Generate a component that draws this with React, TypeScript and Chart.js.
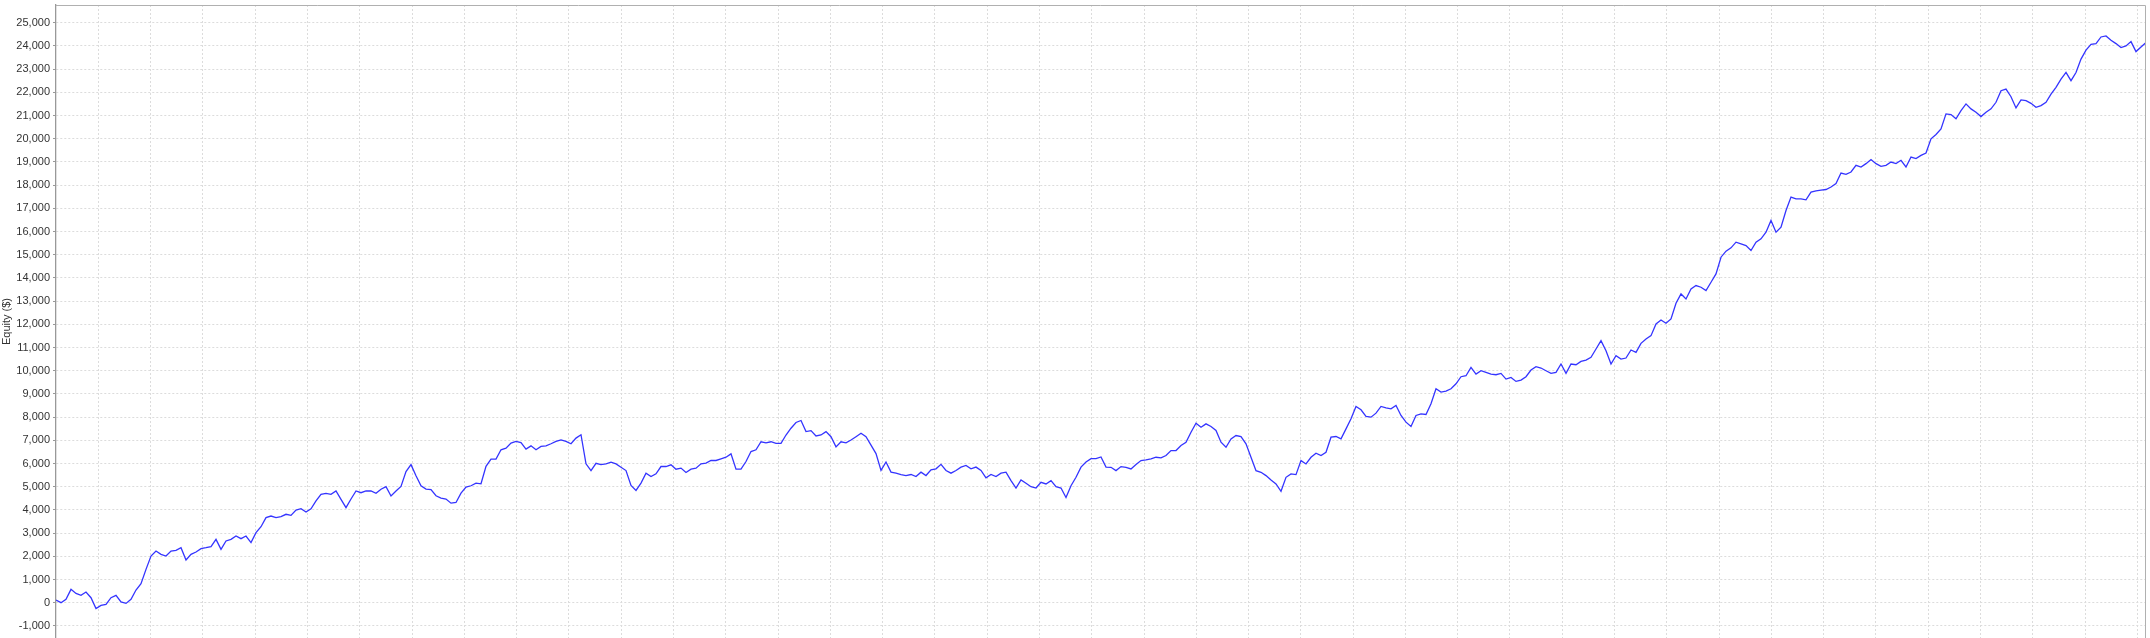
import React, { useEffect, useRef } from 'react';
import { Chart, registerables } from 'chart.js';

Chart.register(...registerables);

// Equity curve values ($), sampled at equal steps along the x-axis
const equitySeg1 = [
  115, 0, 145, 575, 400, 315, 460, 215, -250, -115,
  -70, 215, 315, 30, -30, 145, 545, 820, 1435, 2010,
  2225, 2085, 2010, 2225, 2255, 2370, 1840, 2085, 2185, 2330,
  2370, 2415, 2730, 2300, 2660, 2730, 2875, 2760, 2875, 2590,
  3020, 3275, 3665, 3735, 3665, 3710, 3810, 3765, 3995, 4050,
  3910, 4050, 4385, 4670, 4715, 4670, 4815, 4455, 4095, 4470,
  4815, 4740, 4815, 4815, 4715, 4890, 5000, 4600, 4815,
];
const equitySeg2 = [
  5010, 5650, 5950, 5470, 5040, 4895, 4870, 4610, 4510, 4465,
  4290, 4320, 4720, 4980, 5040, 5155, 5125, 5875, 6190, 6190,
  6590, 6660, 6880, 6950, 6905, 6620, 6760, 6590, 6735, 6760,
  6850, 6950, 7020, 6950, 6850, 7095, 7240, 5985, 5695, 6010,
  5955, 5985, 6055, 5985, 5840, 5695, 5055, 4840, 5155, 5585,
  5440, 5555, 5870, 5870, 5945, 5755, 5800, 5610, 5755, 5800,
  5985, 6015, 6130, 6130, 6200, 6270, 6415, 5755, 5755, 6085,
  6515, 6590,
];
const equitySeg3 = [
  6937, 6893, 6937, 6864, 6864, 7228, 7520, 7767, 7854, 7374,
  7418, 7185, 7228, 7374, 7155, 6718, 6937, 6893, 7010, 7155,
  7300, 7155, 6791, 6427, 5700, 6063, 5627, 5583, 5525, 5481,
  5525, 5437, 5627, 5481, 5729, 5772, 5962, 5700, 5583, 5700,
  5845, 5918, 5772, 5845, 5700, 5379, 5525, 5437, 5583, 5627,
  5263, 4942, 5292, 5146, 5000, 4942, 5190, 5117, 5263, 5000,
  4942, 4535, 5044, 5408, 5845, 6063, 6209, 6209, 6282, 5845,
];
const equitySeg4 = [
  5837, 5693, 5866, 5837, 5765, 5952, 6125, 6154, 6197, 6269,
  6240, 6341, 6557, 6557, 6773, 6917, 7349, 7738, 7565, 7709,
  7594, 7421, 6917, 6701, 7061, 7205, 7162, 6845, 6269, 5693,
  5621, 5477, 5290, 5117, 4800, 5405, 5549, 5520, 6125, 5981,
  6269, 6442, 6341, 6485, 7133, 7162, 7061, 7493, 7925, 8458,
  8314, 8026, 7997, 8170, 8458, 8400, 8357, 8501, 8069, 7781,
  7594, 8069, 8141, 8112, 8573, 9221, 9077, 9122, 9221, 9437,
];
const equitySeg5 = [
  9740, 9783, 10143, 9855, 9999, 9927, 9855, 9826, 9884, 9639,
  9711, 9539, 9596, 9740, 10028, 10172, 10114, 9999, 9884, 9927,
  10287, 9884, 10287, 10258, 10402, 10460, 10575, 10935, 11294, 10863,
  10287, 10647, 10503, 10546, 10891, 10791, 11179, 11366, 11510, 12014,
  12187, 12043, 12230, 12906, 13309, 13093, 13525, 13669, 13597, 13453,
  13813, 14172, 14892, 15151, 15295, 15539, 15467, 15395, 15179, 15539,
  15683, 15971, 16474, 15971, 16186, 16906, 17482, 17410, 17410, 17367,
];
const equitySeg6 = [
  17700, 17750, 17780, 17810, 17920, 18065, 18520, 18465, 18565, 18850,
  18780, 18925, 19100, 18925, 18810, 18850, 18995, 18925, 19070, 18780,
  19210, 19140, 19280, 19380, 19995, 20180, 20425, 21070, 21040, 20855,
  21210, 21500, 21285, 21140, 20955, 21140, 21285, 21570, 22070, 22140,
  21810, 21325, 21670, 21640, 21525, 21355, 21425, 21570, 21925, 22215,
  22570, 22855, 22500, 22855, 23430, 23815, 24070, 24100, 24385, 24430,
  24240, 24100, 23930, 24000, 24185, 23755, 23955, 24145,
];
const equity = [
  ...equitySeg1, ...equitySeg2, ...equitySeg3,
  ...equitySeg4, ...equitySeg5, ...equitySeg6,
];

const yTicks = [
  -1000, 0, 1000, 2000, 3000, 4000, 5000, 6000, 7000, 8000, 9000, 10000,
  11000, 12000, 13000, 14000, 15000, 16000, 17000, 18000, 19000, 20000,
  21000, 22000, 23000, 24000, 25000,
];
const yAxisTitle = 'Equity ($)';

const Y_MIN = -1522;
const Y_MAX = 25763;
const GRID_START = 8.48;
const GRID_STEP = 10.456;
const GRID_COUNT = 40;

const FONT = { family: '"Liberation Sans", Arial, sans-serif', size: 11 };

const framePlugin = {
  id: 'frame',
  afterDraw(chart: any) {
    const { ctx, chartArea } = chart;
    ctx.save();
    ctx.strokeStyle = '#b0b0b0';
    ctx.lineWidth = 1;
    ctx.beginPath();
    ctx.moveTo(chartArea.left, chartArea.top + 0.5);
    ctx.lineTo(chartArea.right - 0.5, chartArea.top + 0.5);
    ctx.lineTo(chartArea.right - 0.5, chartArea.bottom);
    ctx.stroke();
    ctx.restore();
  },
};

export default function App() {
  const ref = useRef<HTMLCanvasElement | null>(null);

  useEffect(() => {
    if (!ref.current) return;
    const chart = new Chart(ref.current, {
      type: 'line',
      data: {
        datasets: [
          {
            data: equity.map((y, i) => ({ x: i, y })),
            borderColor: '#3434ff',
            borderWidth: 1.3,
            pointRadius: 0,
            tension: 0,
            fill: false,
          },
        ],
      },
      options: {
        animation: false,
        responsive: false,
        maintainAspectRatio: false,
        layout: { padding: { top: 5, right: 4, bottom: 0, left: 0 } },
        plugins: { legend: { display: false }, tooltip: { enabled: false } },
        scales: {
          x: {
            type: 'linear',
            min: 0,
            max: equity.length - 1,
            afterBuildTicks: (s: any) => {
              s.ticks = Array.from({ length: GRID_COUNT }, (_, k) => ({
                value: GRID_START + GRID_STEP * k,
              }));
            },
            afterFit: (s: any) => {
              s.height = 0;
              s.paddingLeft = 0;
              s.paddingRight = 0;
              s.paddingTop = 0;
              s.paddingBottom = 0;
            },
            ticks: { display: false },
            grid: { color: '#dcdcdc', drawTicks: false, lineWidth: 1 },
            border: { display: false, dash: [2, 2] },
          },
          y: {
            type: 'linear',
            min: Y_MIN,
            max: Y_MAX,
            afterBuildTicks: (s: any) => {
              s.ticks = yTicks.map((v) => ({ value: v }));
            },
            afterFit: (s: any) => {
              s.width = 56;
              s.paddingTop = 0;
              s.paddingBottom = 0;
              s.paddingLeft = 0;
              s.paddingRight = 0;
            },
            ticks: {
              color: '#333',
              font: FONT,
              padding: 3,
              callback: (v: any) => Number(v).toLocaleString('en-US'),
            },
            grid: { color: '#dcdcdc', tickLength: 3, tickColor: '#999', lineWidth: 1 },
            border: { display: true, color: '#999', width: 1.3, dash: [2, 2] },
            title: { display: true, text: yAxisTitle, color: '#333', font: FONT, padding: 0 },
          },
        },
      },
      plugins: [framePlugin],
    } as any);
    return () => chart.destroy();
  }, []);

  return (
    <div style={{ position: 'fixed', left: 0, top: 0, width: 2150, height: 638, background: '#fff' }}>
      <canvas ref={ref} width={2150} height={638} style={{ display: 'block', width: 2150, height: 638 }} />
    </div>
  );
}
